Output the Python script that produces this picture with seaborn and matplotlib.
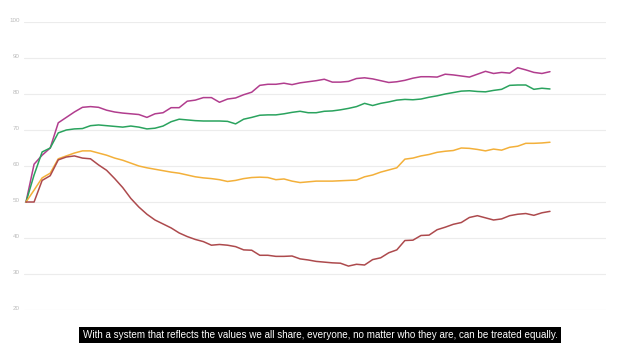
import numpy as np
import pandas as pd
import matplotlib
matplotlib.use("Agg")
import matplotlib.pyplot as plt
import seaborn as sns

# Valores (66 pontos por série)
magenta = [50, 60.5, 63, 65, 72, 73.5, 75, 76.3, 76.5, 76.3, 75.5, 75, 74.7, 74.5, 74.3, 73.5,
           74.5, 74.8, 76.2, 76.2, 78, 78.3, 79, 79, 77.7, 78.6, 78.9, 79.8, 80.5, 82.4, 82.7,
           82.7, 83, 82.6, 83.1, 83.4, 83.7, 84.1, 83.3, 83.3, 83.5, 84.3, 84.5, 84.2, 83.7,
           83.2, 83.4, 83.8, 84.4, 84.8, 84.8, 84.7, 85.5, 85.3, 85, 84.7, 85.5, 86.3, 85.7,
           86, 85.8, 87.3, 86.7, 86, 85.7, 86.2]
green = [50, 57.5, 63.9, 65, 69.2, 70, 70.3, 70.4, 71.2, 71.4, 71.2, 71, 70.8, 71.1, 70.8, 70.3,
         70.5, 71.1, 72.3, 73, 72.8, 72.6, 72.5, 72.5, 72.5, 72.4, 71.7, 73, 73.5, 74.1, 74.2,
         74.2, 74.5, 74.9, 75.2, 74.8, 74.8, 75.2, 75.3, 75.6, 76, 76.5, 77.4, 76.8, 77.4,
         77.8, 78.3, 78.5, 78.4, 78.6, 79.1, 79.5, 80, 80.4, 80.8, 80.9, 80.7, 80.6, 81,
         81.3, 82.4, 82.5, 82.5, 81.3, 81.6, 81.4]
orange = [50, 53.3, 56.7, 58, 62, 62.8, 63.6, 64.2, 64.2, 63.6, 63, 62.2, 61.6, 60.8, 60, 59.5,
          59.1, 58.7, 58.3, 58, 57.5, 57, 56.7, 56.5, 56.2, 55.7, 56, 56.5, 56.8, 56.9, 56.8,
          56.2, 56.4, 55.8, 55.4, 55.6, 55.8, 55.8, 55.8, 55.9, 56, 56.1, 57, 57.5, 58.3,
          58.9, 59.5, 61.9, 62.2, 62.8, 63.2, 63.8, 64.1, 64.3, 65, 64.9, 64.6, 64.2, 64.7,
          64.4, 65.2, 65.5, 66.3, 66.3, 66.4, 66.6]
red = [50, 50, 56, 57.3, 61.7, 62.5, 62.8, 62.2, 62, 60.3, 58.8, 56.5, 54, 51, 48.6, 46.6,
       45, 43.9, 42.8, 41.4, 40.4, 39.6, 39, 38, 38.2, 38, 37.6, 36.7, 36.6, 35.2, 35.2,
       34.9, 34.9, 35, 34.2, 33.9, 33.5, 33.3, 33.1, 33, 32.2, 32.7, 32.5, 34, 34.5, 35.9,
       36.7, 39.3, 39.4, 40.7, 40.8, 42.3, 43, 43.8, 44.3, 45.7, 46.2, 45.6, 45, 45.3,
       46.2, 46.6, 46.8, 46.3, 47, 47.4]

y_ticks = [20, 30, 40, 50, 60, 70, 80, 90, 100]
caption = ("With a system that reflects the values we all share, everyone, "
           "no matter who they are, can be treated equally.")

series = {"magenta": magenta, "green": green, "orange": orange, "red": red}
palette = {"magenta": "#b13d8e", "green": "#2aa35e", "orange": "#f3b03a", "red": "#ad4a4d"}

df = pd.concat(
    [pd.DataFrame({"t": np.arange(len(v)), "valor": v, "serie": k}) for k, v in series.items()],
    ignore_index=True,
)

sns.set_style("white")
plt.rcParams['font.family'] = ['Liberation Sans', 'DejaVu Sans']

fig = plt.figure(figsize=(6.4, 3.6), dpi=100)
ax = fig.add_axes([24 / 640, 1 - 310 / 360, 582 / 640, 288 / 360])

sns.lineplot(data=df, x="t", y="valor", hue="serie", palette=palette,
             linewidth=1.1, legend=False, ax=ax)

ax.set_xlim(-0.25, 71.95)
ax.set_ylim(20, 100)
ax.set_yticks(y_ticks)
ax.set_yticklabels([str(v) for v in y_ticks])
ax.set_xticks([])
ax.set_xlabel("")
ax.set_ylabel("")
ax.grid(axis="y", color="#ececec", linewidth=0.8)
ax.set_axisbelow(True)
ax.tick_params(axis="y", length=0, pad=3, labelsize=4.5, labelcolor="#bbbbbb")
for lbl in ax.get_yticklabels():
    lbl.set_verticalalignment("baseline")
sns.despine(ax=ax, left=True, bottom=True)

fig.text(0.5, 1 - 335 / 360, caption, ha="center", va="center", color="white",
         fontsize=7.15, bbox=dict(facecolor="black", edgecolor="none", pad=2.4))

fig.savefig("out.png", dpi=100)
